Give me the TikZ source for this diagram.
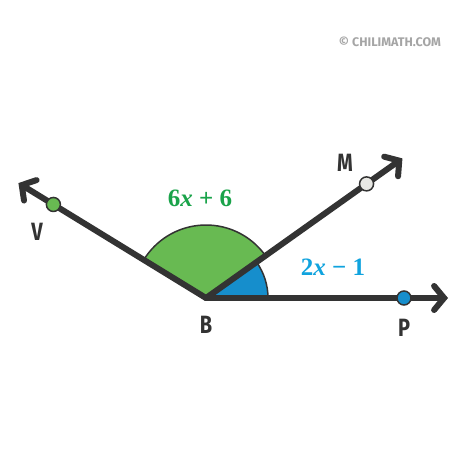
\documentclass[tikz,border=0pt]{standalone}
\usepackage{amsmath}
\usepackage{fontspec}
\setmainfont{Fira Sans}
\newfontfamily\measurefont{Liberation Serif}
\usetikzlibrary{arrows.meta}
\usetikzlibrary{calc}
\definecolor{raydark}{RGB}{51,51,51}
\definecolor{bigfill}{RGB}{104,186,82}
\definecolor{bigtext}{RGB}{26,163,74}
\definecolor{smallfill}{RGB}{22,142,204}
\definecolor{smalltext}{RGB}{16,163,222}
\definecolor{pointwhite}{RGB}{232,232,228}
\definecolor{markgray}{RGB}{165,165,165}

\begin{document}
\begin{tikzpicture}[x=1pt,y=1pt,
    ray/.style={raydark,line width=6pt,line cap=round,
        -{Straight Barb[length=10pt,width=24pt,line cap=round]}},
    dot/.style={circle,draw=raydark,line width=1.5pt,minimum size=14pt,inner sep=0pt},
    letter/.style={raydark,xscale=0.8,font=\fontsize{25}{25}\selectfont\bfseries},
    measure/.style={font=\fontsize{25}{25}\selectfont\measurefont\bfseries},
  ]
    \useasboundingbox (0,0) rectangle (474,474);

    % Define vertex and ray ends
    \coordinate (B) at (206,176);
    \coordinate (Vend) at ($(B)+(148.5:220)$);
    \coordinate (Mend) at ($(B)+(35.4:241)$);
    \coordinate (Pend) at ($(B)+(0:242)$);

    % Draw the angle sectors
    \filldraw[fill=bigfill,draw=raydark,line width=1.5pt]
        (B) -- ++(35.4:73) arc[start angle=35.4,end angle=148.5,radius=73] -- cycle;
    \filldraw[fill=smallfill,draw=raydark,line width=1.5pt]
        (B) -- ++(0:62) arc[start angle=0,end angle=35.4,radius=62] -- cycle;

    % Draw the rays
    \draw[ray] (B) -- (Vend);
    \draw[ray] (B) -- (Mend);
    \draw[ray] (B) -- (Pend);

    % Draw the points on the rays
    \node[dot,fill=bigfill] (V) at ($(B)+(148.5:179)$) {};
    \node[dot,fill=pointwhite] (M) at ($(B)+(35.4:197)$) {};
    \node[dot,fill=smallfill] (P) at ($(B)+(0:198)$) {};

    % Labels
    \node[letter] (Vlab) at (37,242) {V};
    \node[letter] (Mlab) at (345,311) {M};
    \node[letter] (Blab) at (206,149) {B};
    \node[letter] (Plab) at (404,146) {P};
    \node[measure,text=bigtext] (big) at (200,276) {6\textit{x} + 6};
    \node[measure,text=smalltext] (small) at (333,207) {2\textit{x} − 1};

    % Watermark
    \node[markgray,font=\fontsize{12.5}{12.5}\selectfont\bfseries] (mark) at (390,432) {© CHILIMATH.COM};
\end{tikzpicture}
\end{document}
